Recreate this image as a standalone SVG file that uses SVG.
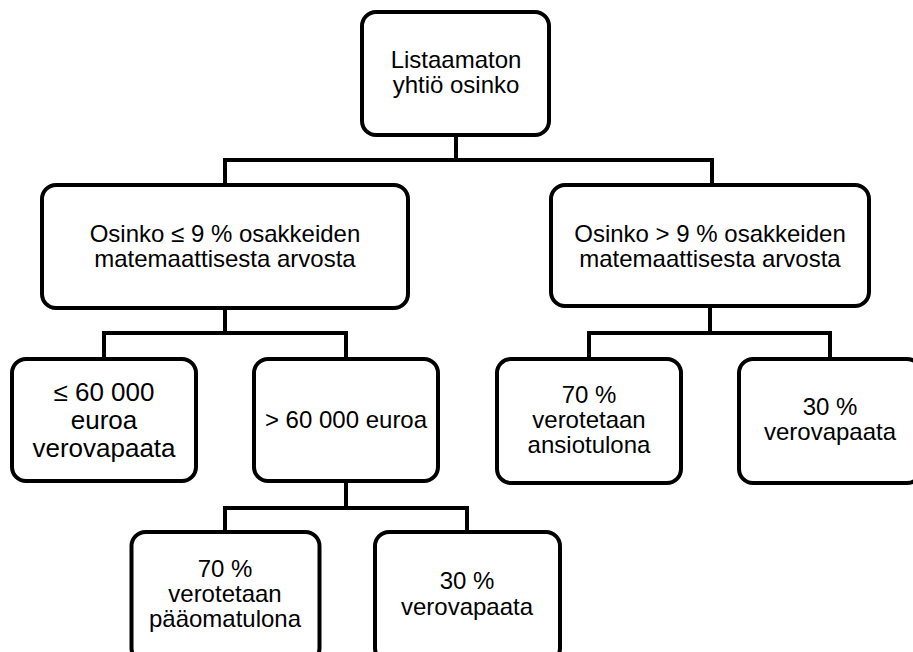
<svg xmlns="http://www.w3.org/2000/svg" width="913" height="652" viewBox="0 0 913 652">
<style>
.box{fill:#fff;stroke:#000;stroke-width:4;}
.conn{fill:none;stroke:#000;stroke-width:4;stroke-linejoin:miter;}
text{font-family:"Liberation Sans",Arial,sans-serif;font-size:24px;fill:#000;text-anchor:middle;}
.big{font-size:26px;}
</style>
<rect width="913" height="652" fill="#fff"/>
<g id="connectors">
<path class="conn" d="M456,135 V160 M225,185 V160 H712 V185"/>
<path class="conn" d="M225,308 V333 M104,359 V333 H346 V359"/>
<path class="conn" d="M710,306 V333 M589,359 V333 H830 V359"/>
<path class="conn" d="M346,481 V508 M225,532 V508 H467 V532"/>
</g>
<g id="root">
<rect class="box" x="362" y="12" width="187" height="123" rx="14"/>
<text x="456" y="68">Listaamaton</text>
<text x="456" y="93">yhtiö osinko</text>
</g>
<g id="le9">
<rect class="box" x="42" y="185" width="366" height="123" rx="14"/>
<text x="225" y="242">Osinko ≤ 9 % osakkeiden</text>
<text x="225" y="267">matemaattisesta arvosta</text>
</g>
<g id="gt9">
<rect class="box" x="551" y="185" width="318" height="121" rx="14"/>
<text x="710" y="242">Osinko &gt; 9 % osakkeiden</text>
<text x="710" y="267">matemaattisesta arvosta</text>
</g>
<g id="le60k">
<rect class="box" x="12" y="359" width="184" height="122" rx="14"/>
<text class="big" x="104" y="401">≤ 60 000</text>
<text class="big" x="104" y="429">euroa</text>
<text class="big" x="104" y="457">verovapaata</text>
</g>
<g id="gt60k">
<rect class="box" x="254" y="359" width="184" height="122" rx="14"/>
<text x="346" y="428">&gt; 60 000 euroa</text>
</g>
<g id="ansio">
<rect class="box" x="497" y="359" width="184" height="124" rx="14"/>
<text x="589" y="403">70 %</text>
<text x="589" y="428">verotetaan</text>
<text x="589" y="453">ansiotulona</text>
</g>
<g id="free30a">
<rect class="box" x="739" y="359" width="182" height="124" rx="14"/>
<text x="830" y="415">30 %</text>
<text x="830" y="440">verovapaata</text>
</g>
<g id="paaoma">
<rect class="box" x="131.5" y="532" width="188" height="130" rx="14"/>
<text x="225" y="577">70 %</text>
<text x="225" y="602">verotetaan</text>
<text x="225" y="627">pääomatulona</text>
</g>
<g id="free30b">
<rect class="box" x="375" y="532" width="185" height="130" rx="14"/>
<text x="467" y="589">30 %</text>
<text x="467" y="615">verovapaata</text>
</g>
</svg>
